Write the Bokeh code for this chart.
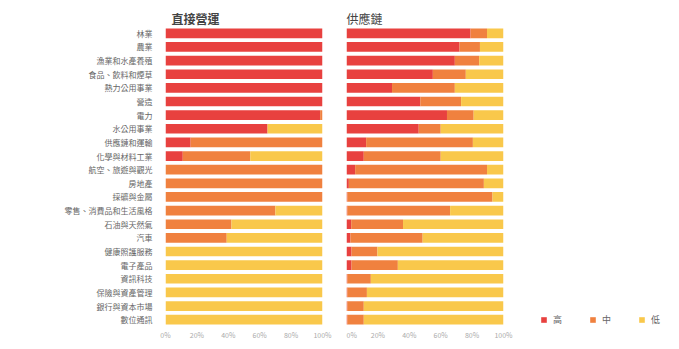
from bokeh.plotting import figure
from bokeh.layouts import row
from bokeh.models import Range1d, FactorRange, Legend, LegendItem, FixedTicker, NumeralTickFormatter, ColumnDataSource
from bokeh.embed import file_html
from bokeh.resources import INLINE

categories = ["林業", "農業", "漁業和水產養殖", "食品、飲料和煙草", "熱力公用事業", "營造", "電力",
              "水公用事業", "供應鏈和運輸", "化學與材料工業", "航空、旅遊與觀光", "房地產", "採礦與金屬",
              "零售、消費品和生活風格", "石油與天然氣", "汽車", "健康照護服務", "電子產品", "資訊科技",
              "保險與資產管理", "銀行與資本市場", "數位通訊"]
direct_high = [100, 100, 100, 100, 100, 100, 98.5, 65, 16, 11, 0, 0, 0, 0, 0, 0, 0, 0, 0, 0, 0, 0]
direct_mid = [0, 0, 0, 0, 0, 0, 1.5, 0, 84, 43, 100, 100, 100, 70, 42, 39, 0, 0, 0, 0, 0, 0]
direct_low = [0, 0, 0, 0, 0, 0, 0, 35, 0, 46, 0, 0, 0, 30, 58, 61, 100, 100, 100, 100, 100, 100]

supply_high = [79, 72, 69, 55, 29, 47, 64, 46, 12.5, 11, 5.5, 1.5, 0.5, 0.5, 3, 2.5, 3.2, 3.2, 0.5, 0.5, 0.5, 0.5]
supply_mid = [10.5, 13, 15.5, 21, 40, 26, 17, 14, 68, 49, 84, 86, 92.5, 65.5, 33, 46, 16.5, 29.5, 15, 12.5, 10.5, 10.5]
supply_low = [10.5, 15, 15.5, 24, 31, 27, 19, 40, 19.5, 40, 10.5, 12.5, 7, 34, 64, 51.5, 80.3, 67.3, 84.5, 87, 89, 89]

levels = ["高", "中", "低"]
colors = ["#E8413F", "#F0813F", "#F9C84B"]
x_ticks = [0, 0.2, 0.4, 0.6, 0.8, 1.0]

FONT = "Noto Sans CJK TC"
factors = list(reversed(categories))


def make_source(h, m, l):
    return ColumnDataSource(dict(cat=categories,
                                 高=[v / 100 for v in h],
                                 中=[v / 100 for v in m],
                                 低=[v / 100 for v in l]))


def style(p):
    p.x_range = Range1d(0, 1)
    p.xgrid.visible = False
    p.ygrid.visible = False
    p.outline_line_color = None
    p.background_fill_color = "white"
    p.border_fill_color = "white"
    ax = p.xaxis[0]
    ax.ticker = FixedTicker(ticks=x_ticks)
    ax.formatter = NumeralTickFormatter(format="0%")
    ax.axis_line_color = None
    ax.major_tick_line_color = None
    ax.minor_tick_line_color = None
    ax.major_tick_out = 0
    ax.major_tick_in = 0
    ax.major_label_text_font = FONT
    ax.major_label_text_font_size = "7px"
    ax.major_label_text_color = "#AAAAAA"
    ax.major_label_standoff = 3
    p.title.text_font = FONT
    p.title.text_font_size = "12px"
    p.title.text_color = "#444444"
    p.title.standoff = 0


y_range = FactorRange(factors=factors, range_padding=0)
common = dict(height=349, y_range=y_range, output_backend="svg", toolbar_location=None,
              min_border_top=26, min_border_bottom=23)

p1 = figure(width=346, min_border_left=165, min_border_right=24, title="直接營運", **common)
style(p1)
p1.title.offset = 6
p1.title.text_font_style = "bold"
p1.hbar_stack(levels, y="cat", height=0.71, color=colors, line_color=None,
              source=make_source(direct_high, direct_mid, direct_low))
yax = p1.yaxis[0]
yax.axis_line_color = None
yax.major_tick_line_color = None
yax.minor_tick_line_color = None
yax.major_tick_out = 0
yax.major_tick_in = 0
yax.major_label_text_font = FONT
yax.major_label_text_font_size = "8px"
yax.major_label_text_color = "#666666"
yax.major_label_standoff = 13

p2 = figure(width=177, min_border_left=0, min_border_right=20, title="供應鏈", **common)
style(p2)
p2.title.text_font_style = "normal"
p2.yaxis.visible = False
p2.hbar_stack(levels, y="cat", height=0.71, color=colors, line_color=None,
              source=make_source(supply_high, supply_mid, supply_low))

# legend panel: no axes at all; swatch renderers sit outside the visible range
p3 = figure(width=156, height=349, output_backend="svg", toolbar_location=None,
            x_axis_location=None, y_axis_location=None,
            min_border=0, x_range=Range1d(0, 1), y_range=Range1d(0, 1))
p3.grid.visible = False
p3.outline_line_color = None
swatches = [p3.quad(left=[-5], right=[-4], bottom=[-5], top=[-4], color=c, line_color=None)
            for c in colors]
legend = Legend(items=[LegendItem(label=lv, renderers=[r]) for lv, r in zip(levels, swatches)],
                orientation="horizontal", location=(17, 0),
                glyph_width=7, glyph_height=7, label_height=9, label_standoff=6, spacing=16,
                padding=0, margin=0, border_line_color=None, background_fill_alpha=0,
                label_text_font=FONT, label_text_font_size="9px", label_text_color="#666666")
p3.add_layout(legend, "center")

layout = row(p1, p2, p3)
open("out.html", "w").write(file_html(layout, INLINE))
